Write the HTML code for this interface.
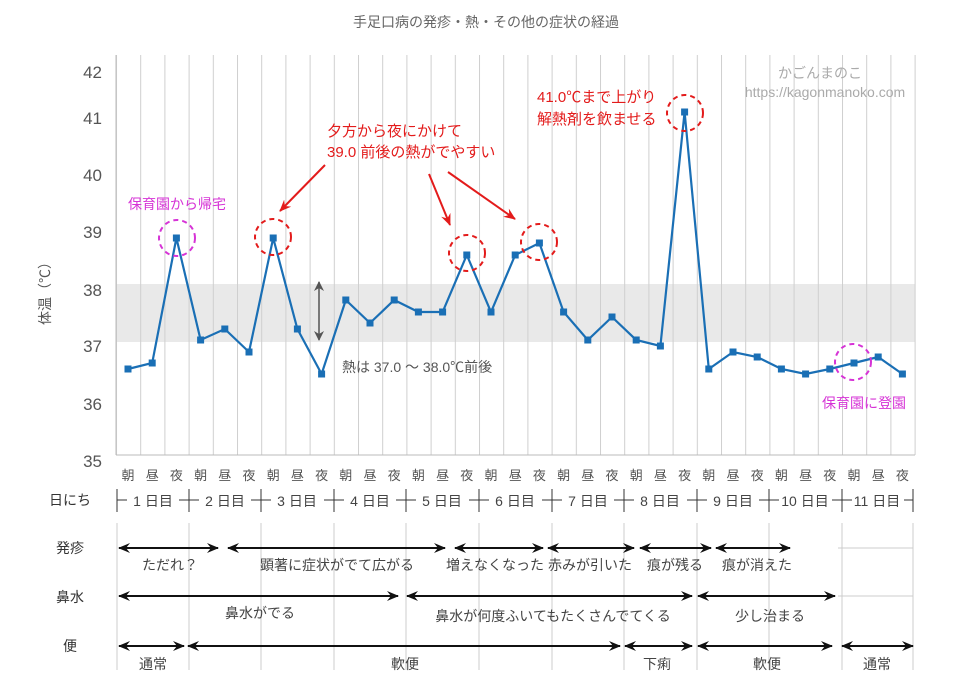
<!DOCTYPE html>
<html><head><meta charset="utf-8"><style>
html,body{margin:0;padding:0;background:#fff}
svg{display:block}
text{font-family:"Liberation Sans","Noto Sans CJK JP",sans-serif}
</style></head><body>
<svg width="973" height="690" viewBox="0 0 973 690" xmlns="http://www.w3.org/2000/svg">
<defs>
<pattern id="g" x="116" y="0" width="24.2" height="690" patternUnits="userSpaceOnUse">
<line x1="0.5" y1="0" x2="0.5" y2="690" stroke="#cfcfcf" stroke-width="1"/>
</pattern>
<marker id="sq" markerWidth="8" markerHeight="8" refX="4" refY="4" markerUnits="userSpaceOnUse">
<rect x="0.5" y="0.5" width="7" height="7" fill="#1a6fb5"/>
</marker>
<marker id="ah" markerWidth="12" markerHeight="10" refX="11" refY="5" orient="auto-start-reverse" markerUnits="userSpaceOnUse">
<path d="M0,0 L12,5 L0,10 L4,5 Z" fill="#111"/>
</marker>
<marker id="ar" markerWidth="12" markerHeight="10" refX="11" refY="5" orient="auto" markerUnits="userSpaceOnUse">
<path d="M0,0 L12,5 L0,10 L4,5 Z" fill="#e31b1b"/>
</marker>
<marker id="ag" markerWidth="10" markerHeight="10" refX="9" refY="5" orient="auto-start-reverse" markerUnits="userSpaceOnUse">
<path d="M0,0 L10,5 L0,10 L3,5 Z" fill="#555"/>
</marker>
</defs>
<text x="486" y="27" font-size="14" fill="#666" text-anchor="middle">手足口病の発疹・熱・その他の症状の経過</text>
<rect x="116" y="284" width="799" height="58" fill="#e9e9e9"/>
<rect x="116" y="55" width="800" height="400" fill="url(#g)"/>
<line x1="116" y1="55" x2="116" y2="455" stroke="#bbb"/>
<line x1="116" y1="455" x2="915" y2="455" stroke="#bbb"/>
<g font-size="17" fill="#555" text-anchor="end">
<text x="102" y="78">42</text><text x="102" y="124">41</text><text x="102" y="181">40</text><text x="102" y="238">39</text><text x="102" y="296">38</text><text x="102" y="352">37</text><text x="102" y="410">36</text><text x="102" y="467">35</text>
</g>
<text transform="translate(50,290) rotate(-90)" font-size="14" fill="#555" text-anchor="middle">体温（℃）</text>
<text x="820" y="78" font-size="14" fill="#aaa" text-anchor="middle">かごんまのこ</text>
<text x="825" y="97" font-size="14" fill="#aaa" text-anchor="middle">https://kagonmanoko.com</text>
<polyline fill="none" stroke="#1a6fb5" stroke-width="2.2" marker-start="url(#sq)" marker-mid="url(#sq)" marker-end="url(#sq)" points="128,369 152.2,363 176.4,238 200.6,340 224.8,329 249,352 273.2,238 297.4,329 321.6,374 345.8,300 370,323 394.2,300 418.4,312 442.6,312 466.8,255 491,312 515.2,255 539.4,243 563.6,312 587.8,340 612,317 636.2,340 660.4,346 684.6,112 708.8,369 733,352 757.2,357 781.4,369 805.6,374 829.8,369 854,363 878.2,357 902.4,374"/>
<g fill="none" stroke-width="2" stroke-dasharray="5,4">
<circle cx="177" cy="238" r="18" stroke="#d633d6"/>
<circle cx="273" cy="237" r="18" stroke="#e31b1b"/>
<circle cx="467" cy="253" r="18" stroke="#e31b1b"/>
<circle cx="539" cy="242" r="18" stroke="#e31b1b"/>
<circle cx="685" cy="113" r="18" stroke="#e31b1b"/>
<circle cx="853" cy="362" r="18" stroke="#d633d6"/>
</g>
<text x="128" y="209" font-size="14" fill="#d633d6">保育園から帰宅</text>
<text x="822" y="408" font-size="14" fill="#d633d6">保育園に登園</text>
<g font-size="15" fill="#e31b1b">
<text x="327" y="136">夕方から夜にかけて</text>
<text x="327" y="157">39.0 前後の熱がでやすい</text>
<text x="537" y="102">41.0℃まで上がり</text>
<text x="537" y="124">解熱剤を飲ませる</text>
</g>
<g stroke="#e31b1b" stroke-width="2" marker-end="url(#ar)">
<line x1="325" y1="165" x2="280" y2="211"/>
<line x1="429" y1="174" x2="450" y2="225"/>
<line x1="448" y1="172" x2="515" y2="219"/>
</g>
<line x1="319" y1="282" x2="319" y2="340" stroke="#555" stroke-width="1.5" marker-start="url(#ag)" marker-end="url(#ag)"/>
<text x="342" y="372" font-size="14" fill="#555">熱は 37.0 ～ 38.0℃前後</text>
<text y="480" font-size="13" fill="#555" text-anchor="middle" x="128 152.2 176.4 200.6 224.8 249 273.2 297.4 321.6 345.8 370 394.2 418.4 442.6 466.8 491 515.2 539.4 563.6 587.8 612 636.2 660.4 684.6 708.8 733 757.2 781.4 805.6 829.8 854 878.2 902.4">朝昼夜朝昼夜朝昼夜朝昼夜朝昼夜朝昼夜朝昼夜朝昼夜朝昼夜朝昼夜朝昼夜</text>
<g font-size="14" fill="#333" text-anchor="middle">
<text x="70" y="505">日にち</text><text x="70" y="553">発疹</text><text x="70" y="602">鼻水</text><text x="70" y="651">便</text>
</g>
<g stroke="#ccc" stroke-width="1">
<line x1="117" y1="523" x2="117" y2="670"/><line x1="189" y1="523" x2="189" y2="670"/><line x1="261" y1="523" x2="261" y2="670"/><line x1="334" y1="523" x2="334" y2="670"/><line x1="406" y1="523" x2="406" y2="670"/><line x1="479" y1="523" x2="479" y2="670"/><line x1="552" y1="523" x2="552" y2="670"/><line x1="624" y1="523" x2="624" y2="670"/><line x1="697" y1="523" x2="697" y2="670"/><line x1="769" y1="523" x2="769" y2="670"/><line x1="842" y1="523" x2="842" y2="670"/><line x1="913" y1="523" x2="913" y2="670"/>
<line x1="838" y1="548" x2="913" y2="548"/><line x1="838" y1="596" x2="913" y2="596"/>
</g>
<g stroke="#333" stroke-width="1">
<line x1="117" y1="489" x2="117" y2="512"/><line x1="189" y1="489" x2="189" y2="512"/><line x1="261" y1="489" x2="261" y2="512"/><line x1="334" y1="489" x2="334" y2="512"/><line x1="406" y1="489" x2="406" y2="512"/><line x1="479" y1="489" x2="479" y2="512"/><line x1="552" y1="489" x2="552" y2="512"/><line x1="624" y1="489" x2="624" y2="512"/><line x1="697" y1="489" x2="697" y2="512"/><line x1="769" y1="489" x2="769" y2="512"/><line x1="842" y1="489" x2="842" y2="512"/><line x1="913" y1="489" x2="913" y2="512"/>
<line x1="117" y1="500" x2="127" y2="500"/>
<line x1="179" y1="500" x2="199" y2="500"/><line x1="251" y1="500" x2="271" y2="500"/><line x1="324" y1="500" x2="344" y2="500"/><line x1="396" y1="500" x2="416" y2="500"/><line x1="469" y1="500" x2="489" y2="500"/><line x1="542" y1="500" x2="562" y2="500"/><line x1="614" y1="500" x2="634" y2="500"/><line x1="687" y1="500" x2="707" y2="500"/><line x1="759" y1="500" x2="779" y2="500"/><line x1="832" y1="500" x2="852" y2="500"/><line x1="904" y1="500" x2="913" y2="500"/>
</g>
<g font-size="14" fill="#444" text-anchor="middle">
<text x="153" y="506">1 日目</text><text x="225" y="506">2 日目</text><text x="297" y="506">3 日目</text><text x="370" y="506">4 日目</text><text x="442" y="506">5 日目</text><text x="515" y="506">6 日目</text><text x="588" y="506">7 日目</text><text x="660" y="506">8 日目</text><text x="733" y="506">9 日目</text><text x="805" y="506">10 日目</text><text x="877" y="506">11 日目</text>
</g>
<g stroke="#111" stroke-width="2" marker-start="url(#ah)" marker-end="url(#ah)">
<line x1="119" y1="548" x2="218" y2="548"/><line x1="228" y1="548" x2="445" y2="548"/><line x1="455" y1="548" x2="543" y2="548"/><line x1="548" y1="548" x2="634" y2="548"/><line x1="640" y1="548" x2="711" y2="548"/><line x1="716" y1="548" x2="790" y2="548"/>
<line x1="119" y1="596" x2="398" y2="596"/><line x1="407" y1="596" x2="692" y2="596"/><line x1="698" y1="596" x2="835" y2="596"/>
<line x1="119" y1="646" x2="184" y2="646"/><line x1="188" y1="646" x2="620" y2="646"/><line x1="625" y1="646" x2="692" y2="646"/><line x1="698" y1="646" x2="832" y2="646"/><line x1="842" y1="646" x2="913" y2="646"/>
</g>
<g font-size="14" fill="#444" text-anchor="middle">
<text x="170" y="570">ただれ？</text><text x="337" y="570">顕著に症状がでて広がる</text><text x="495" y="570">増えなくなった</text><text x="590" y="570">赤みが引いた</text><text x="675" y="570">痕が残る</text><text x="757" y="570">痕が消えた</text>
<text x="260" y="618">鼻水がでる</text><text x="553" y="621">鼻水が何度ふいてもたくさんでてくる</text><text x="770" y="621">少し治まる</text>
<text x="153" y="669">通常</text><text x="405" y="669">軟便</text><text x="657" y="669">下痢</text><text x="767" y="669">軟便</text><text x="877" y="669">通常</text>
</g>
</svg>
</body></html>
